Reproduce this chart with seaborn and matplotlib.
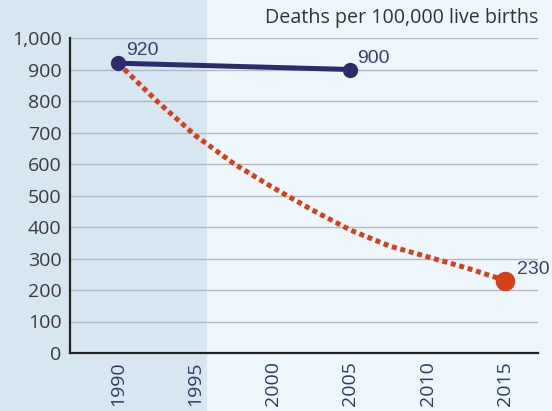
import matplotlib
matplotlib.use("Agg")
import matplotlib.pyplot as plt
import seaborn as sns
import pandas as pd
from matplotlib.patches import Rectangle

# Maternal mortality ratio (deaths per 100,000 live births)
actual_years = [1990, 2005]
actual_values = [920, 900]

target_years = [1990, 1992.5, 1995, 1997.5, 2000, 2002.5, 2005, 2007.5, 2010, 2012.5, 2015]
target_values = [920, 800, 690, 600, 525, 455, 390, 340, 305, 270, 230]

x_ticks = [1990, 1995, 2000, 2005, 2010, 2015]
y_ticks = [0, 100, 200, 300, 400, 500, 600, 700, 800, 900, 1000]
y_tick_labels = ["0", "100", "200", "300", "400", "500", "600", "700", "800", "900", "1,000"]
title_text = "Deaths per 100,000 live births"

navy = "#2b2d6a"
red = "#d4401a"
label_color = "#3a3d70"
dark_bg = "#d7e7f2"
light_bg = "#eef7fc"

sns.set_style("white")
plt.rcParams["font.family"] = ["Open Sans", "DejaVu Sans"]

fig = plt.figure(figsize=(5.52, 4.11), dpi=100)
fig.patch.set_facecolor(light_bg)
# darker band behind the early years, spanning the full height
band = Rectangle((0, 0), 207 / 552, 1, transform=fig.transFigure,
                 facecolor=dark_bg, edgecolor="none", zorder=-10)
fig.patches.append(band)

ax = fig.add_axes([70 / 552, 1 - 353 / 411, 468 / 552, 315 / 411])
ax.set_zorder(5)
ax.set_facecolor("none")
ax.patch.set_alpha(0)

xmin, xmax = 1986.9, 2017.1
ax.set_xlim(xmin, xmax)
ax.set_ylim(0, 1000)

for y in y_ticks[1:]:
    ax.axhline(y, color="#b2b9c0", lw=1.0, zorder=1)

df_target = pd.DataFrame({"year": target_years, "value": target_values})
df_actual = pd.DataFrame({"year": actual_years, "value": actual_values})

sns.lineplot(data=df_target, x="year", y="value", ax=ax, color=red, lw=3.6,
             linestyle=(0, (1, 0.75)), zorder=3)
ax.lines[-1].set_dash_capstyle("butt")
ax.plot([target_years[-1]], [target_values[-1]], "o", color=red, ms=13, zorder=5)

sns.lineplot(data=df_actual, x="year", y="value", ax=ax, color=navy, lw=3.6,
             marker="o", markersize=11, markeredgewidth=0, zorder=4)

lab_font = ["Liberation Sans Narrow", "Liberation Sans", "DejaVu Sans"]
ax.annotate(f"{actual_values[0]}", (actual_years[0], actual_values[0]), xytext=(6, 3),
            textcoords="offset points", fontsize=14, color=label_color,
            family=lab_font, ha="left", va="bottom")
ax.annotate(f"{actual_values[1]}", (actual_years[1], actual_values[1]), xytext=(5, 2),
            textcoords="offset points", fontsize=14, color=label_color,
            family=lab_font, ha="left", va="bottom")
ax.annotate(f"{target_values[-1]}", (target_years[-1], target_values[-1]), xytext=(8, 2),
            textcoords="offset points", fontsize=14, color=label_color,
            family=lab_font, ha="left", va="bottom")

ax.set_xticks(x_ticks)
ax.set_xticklabels([str(t) for t in x_ticks], rotation=90, fontsize=14, color="#2e3a62")
ax.set_yticks(y_ticks)
ax.set_yticklabels(y_tick_labels, fontsize=14, color="#3a3a3a")
ax.tick_params(axis="both", length=0, pad=6)
ax.set_xlabel("")
ax.set_ylabel("")

for side in ["top", "right"]:
    ax.spines[side].set_visible(False)
for side in ["left", "bottom"]:
    ax.spines[side].set_color("#222222")
    ax.spines[side].set_linewidth(1.6)

fig.text(538 / 552, 1 - 18 / 411, title_text, ha="right", va="center",
         fontsize=14.2, color="#333333")

fig.savefig("out.png", dpi=100, facecolor=fig.get_facecolor())
